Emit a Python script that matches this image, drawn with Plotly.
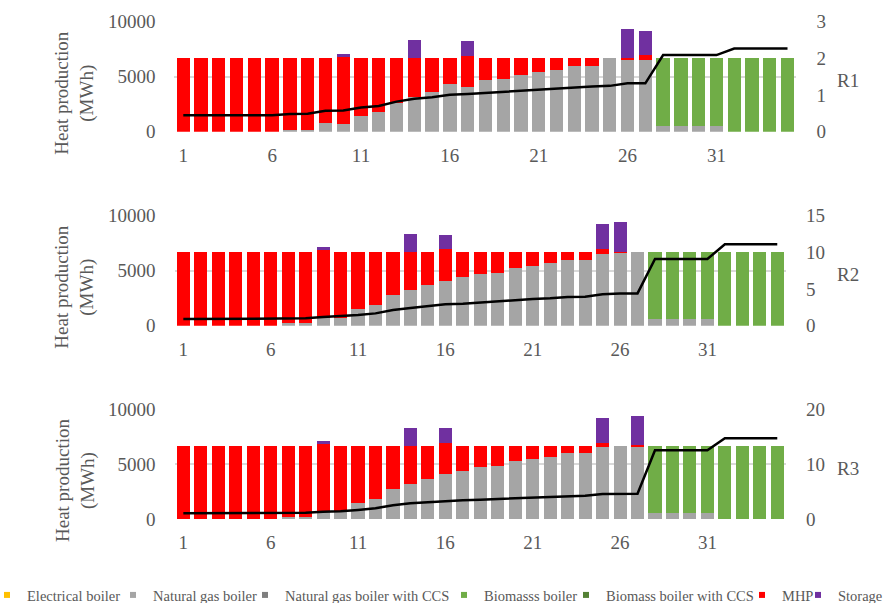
import plotly.graph_objects as go

W, H = 885, 603
periods = list(range(1, 36))
x_ticks = [1, 6, 11, 16, 21, 26, 31]
left_ticks = [0, 5000, 10000]
left_tick_text = ["0", "5000", "10000"]

# ---- R1 ----
r1_ng = [0, 0, 0, 0, 0, 0, 150, 150, 760, 670, 1450, 1760, 2580, 3180, 3640, 4300, 4030, 4670, 4760, 5180,
         5420, 5600, 5970, 5970, 6670, 6580, 6520, 550, 550, 550, 550, 0, 0, 0, 0]
r1_bio = [0] * 27 + [6120, 6120, 6120, 6120, 6670, 6670, 6670, 6670]
r1_mhp = [6670, 6670, 6670, 6670, 6670, 6670, 6520, 6520, 5910, 6150, 5220, 4910, 4090, 3490, 3030, 2370, 2880,
          2000, 1910, 1490, 1250, 1070, 700, 700, 0, 120, 420, 0, 0, 0, 0, 0, 0, 0, 0]
r1_sto = [0, 0, 0, 0, 0, 0, 0, 0, 0, 240, 0, 0, 0, 1660, 0, 0, 1330, 0, 0, 0,
          0, 0, 0, 0, 0, 2600, 2180, 0, 0, 0, 0, 0, 0, 0, 0]
r1_line = [0.45, 0.45, 0.45, 0.45, 0.45, 0.45, 0.48, 0.49, 0.57, 0.58, 0.66, 0.70, 0.82, 0.90, 0.94, 1.01,
           1.03, 1.06, 1.09, 1.13, 1.15, 1.18, 1.21, 1.23, 1.25, 1.32, 1.32, 2.09, 2.09, 2.09, 2.09,
           2.27, 2.27, 2.27, 2.27]

# ---- R2 ----
r2_ng = [0, 0, 0, 0, 0, 0, 210, 210, 670, 670, 1490, 1850, 2790, 3210, 3670, 4090, 4390, 4670, 4820, 5240,
         5450, 5670, 5970, 5970, 6480, 6640, 6700, 600, 600, 600, 600, 0, 0, 0, 0]
r2_bio = [0] * 27 + [6100, 6100, 6100, 6100, 6700, 6700, 6700, 6700]
r2_mhp = [6700, 6700, 6700, 6700, 6700, 6700, 6490, 6490, 6180, 6030, 5210, 4850, 3910, 3490, 3030, 2850, 2310,
          2030, 1880, 1460, 1250, 1030, 730, 730, 460, 60, 0, 0, 0, 0, 0, 0, 0, 0, 0]
r2_sto = [0, 0, 0, 0, 0, 0, 0, 0, 270, 0, 0, 0, 0, 1630, 0, 1330, 0, 0, 0, 0,
          0, 0, 0, 0, 2270, 2690, 0, 0, 0, 0, 0, 0, 0, 0, 0]
r2_line = [0.9, 0.9, 0.9, 0.9, 0.9, 0.9, 0.9, 1.0, 1.18, 1.27, 1.45, 1.68, 2.14, 2.41, 2.64, 2.91, 3.0,
           3.18, 3.27, 3.45, 3.64, 3.73, 3.9, 3.95, 4.3, 4.4, 4.4, 9.09, 9.09, 9.09, 9.09,
           11.1, 11.1, 11.1, 11.1]

# ---- R3 ----
r3_ng = [0, 0, 0, 0, 0, 0, 180, 180, 670, 670, 1450, 1820, 2760, 3210, 3640, 4060, 4360, 4700, 4790, 5240,
         5450, 5670, 5970, 5970, 6520, 6670, 6580, 580, 580, 580, 580, 0, 0, 0, 0]
r3_bio = [0] * 27 + [6090, 6090, 6090, 6090, 6670, 6670, 6670, 6670]
r3_mhp = [6670, 6670, 6670, 6670, 6670, 6670, 6490, 6490, 6150, 6000, 5220, 4850, 3910, 3460, 3030, 2880, 2310,
          1970, 1880, 1430, 1220, 1000, 700, 700, 420, 0, 120, 0, 0, 0, 0, 0, 0, 0, 0]
r3_sto = [0, 0, 0, 0, 0, 0, 0, 0, 270, 0, 0, 0, 0, 1630, 0, 1300, 0, 0, 0, 0,
          0, 0, 0, 0, 2210, 0, 2660, 0, 0, 0, 0, 0, 0, 0, 0]
r3_line = [1.03, 1.03, 1.03, 1.03, 1.03, 1.03, 1.03, 1.15, 1.33, 1.39, 1.64, 1.94, 2.48, 2.85, 3.03, 3.27,
           3.39, 3.52, 3.64, 3.82, 3.94, 4.06, 4.18, 4.24, 4.55, 4.6, 4.6, 12.5, 12.5, 12.5, 12.5,
           14.7, 14.7, 14.7, 14.7]

zeros = [0] * 35

series_names = ["Electrical boiler", "Natural gas boiler", "Natural gas boiler with CCS",
                "Biomasss boiler", "Biomass boiler with CCS", "MHP", "Storage"]
series_colors = ["#FFC000", "#A5A5A5", "#7F7F7F", "#70AD47", "#548235", "#FF0000", "#7030A0"]

panels = [
    dict(data=[zeros, r1_ng, zeros, r1_bio, zeros, r1_mhp, r1_sto], line=r1_line, rmax=3, rdt=1, label="R1",
         y0=131.7, y1=21.7, xl=174.4, xr=796.4),
    dict(data=[zeros, r2_ng, zeros, r2_bio, zeros, r2_mhp, r2_sto], line=r2_line, rmax=15, rdt=5, label="R2",
         y0=325.7, y1=215.7, xl=174.6, xr=786.0),
    dict(data=[zeros, r3_ng, zeros, r3_bio, zeros, r3_mhp, r3_sto], line=r3_line, rmax=20, rdt=10, label="R3",
         y0=519.0, y1=409.0, xl=174.6, xr=786.0),
]

# left edge (px) of each legend entry box
legend_left_px = [-13, 113, 245, 444, 566, 742, 798]

FONT = "Liberation Serif"
GREY = "#595959"

fig = go.Figure()
layout = dict(
    width=W, height=H, margin=dict(l=0, r=0, t=0, b=0, autoexpand=False),
    paper_bgcolor="white", plot_bgcolor="white",
    barmode="stack", bargap=0.25,
    font=dict(family=FONT, color=GREY, size=19),
    annotations=[],
)

for p_i, p in enumerate(panels):
    xa = "x" if p_i == 0 else f"x{p_i + 1}"
    yl = "y" if p_i == 0 else f"y{2 * p_i + 1}"
    yr = f"y{2 * p_i + 2}"
    for s_i, (name, color, vals) in enumerate(zip(series_names, series_colors, p["data"])):
        fig.add_trace(go.Bar(
            x=periods, y=vals, name=name, marker=dict(color=color, line=dict(width=0)),
            xaxis=xa, yaxis=yl, legendgroup=name, showlegend=False,
        ))
    fig.add_trace(go.Scatter(
        x=periods, y=p["line"], mode="lines", line=dict(color="black", width=2.5),
        xaxis=xa, yaxis=yr, showlegend=False, name=p["label"],
    ))

    ydom = [1 - p["y0"] / H, 1 - p["y1"] / H]
    xdom = [p["xl"] / W, p["xr"] / W]
    xkey = "xaxis" if p_i == 0 else f"xaxis{p_i + 1}"
    ylkey = "yaxis" if p_i == 0 else f"yaxis{2 * p_i + 1}"
    yrkey = f"yaxis{2 * p_i + 2}"
    layout[xkey] = dict(domain=xdom, anchor=yl, range=[0.5, 35.5], tickmode="array", tickvals=x_ticks,
                        showgrid=False, showline=False, zeroline=False, ticks="", automargin=False,
                        ticklabelstandoff=10, tickfont=dict(size=19, color=GREY, family=FONT))
    layout[ylkey] = dict(domain=ydom, anchor=xa, range=[0, 10000], tickmode="array",
                         tickvals=left_ticks, ticktext=left_tick_text,
                         showgrid=True, gridcolor="#D9D9D9", gridwidth=1.5, automargin=False,
                         zeroline=False, showline=False, ticks="", ticklabelstandoff=18,
                         tickfont=dict(size=19, color=GREY, family=FONT))
    layout[yrkey] = dict(domain=ydom, anchor=xa, overlaying=yl, side="right", range=[0, p["rmax"]],
                         tickmode="linear", tick0=0, dtick=p["rdt"], showgrid=False, zeroline=False,
                         showline=False, ticks="", ticklabelstandoff=19, automargin=False,
                         tickfont=dict(size=19, color=GREY, family=FONT))
    mid = (p["y0"] + p["y1"]) / 2
    layout["annotations"].append(dict(
        text="Heat production<br>(MWh)", textangle=-90, xref="paper", yref="paper",
        x=75 / W, y=1 - (mid + 17) / H, xanchor="center", yanchor="middle", showarrow=False,
        font=dict(size=19, color=GREY, family=FONT)))
    layout["annotations"].append(dict(
        text=p["label"], xref="paper", yref="paper", x=848 / W, y=1 - (mid + 4) / H,
        xanchor="center", yanchor="middle", showarrow=False,
        font=dict(size=19, color=GREY, family=FONT)))

# legend entries (small square keys, one legend box per entry so each sits where the reference puts it)
for s_i, (name, color, lx) in enumerate(zip(series_names, series_colors, legend_left_px)):
    key = "legend" if s_i == 0 else f"legend{s_i + 1}"
    fig.add_trace(go.Scatter(
        x=[None], y=[None], mode="markers", name=name, legendgroup=name,
        marker=dict(symbol="square", size=6, color=color), xaxis="x", yaxis="y",
        showlegend=True, legend=key,
    ))
    layout[key] = dict(x=lx / W, y=1 - 595 / H, xanchor="left", yanchor="middle",
                       orientation="h", bgcolor="rgba(0,0,0,0)", borderwidth=0,
                       font=dict(size=14.5, color=GREY, family=FONT), itemwidth=30)

fig.update_layout(**layout)
fig.write_html(
    "out.html",
    config={"displayModeBar": False},
    post_script="document.body.style.margin='0';document.documentElement.style.overflow='hidden';",
)
